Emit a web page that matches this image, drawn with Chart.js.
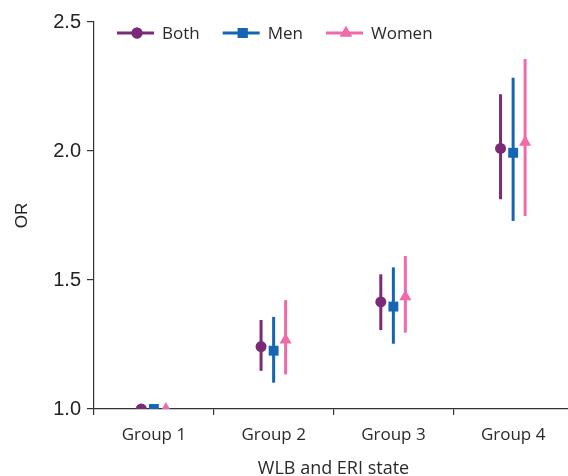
<!DOCTYPE html>
<html>
<head>
<meta charset="utf-8">
<script src="https://cdn.jsdelivr.net/npm/chart.js@4.4.1/dist/chart.umd.min.js"></script>
<style>
  html, body { margin: 0; padding: 0; background: #fff; overflow: hidden; }
  #wrap { position: relative; width: 580px; height: 476px; }
</style>
</head>
<body>
<div id="wrap"><canvas id="chart"></canvas></div>
<script>
// data
const groups = ['Group 1', 'Group 2', 'Group 3', 'Group 4'];
const yTicks = [1.0, 1.5, 2.0, 2.5];

const bothOR  = [1.00, 1.242, 1.415, 2.010];
const bothLo  = [null, 1.148, 1.306, 1.813];
const bothHi  = [null, 1.345, 1.522, 2.220];

const menOR   = [1.00, 1.226, 1.397, 1.993];
const menLo   = [null, 1.102, 1.253, 1.729];
const menHi   = [null, 1.357, 1.549, 2.284];

const womenOR = [1.00, 1.267, 1.435, 2.034];
const womenLo = [null, 1.134, 1.296, 1.748];
const womenHi = [null, 1.422, 1.593, 2.357];

const FONT = '"Open Sans", sans-serif';
const INK = '#333333';

// build scatter points: x = group index (1..4) + small dodge
function series(label, or, lo, hi, dodge, color, style, radius) {
  return {
    label,
    data: or.map((v, i) => ({ x: i + 1 + dodge, y: v, lo: lo[i], hi: hi[i] })),
    backgroundColor: color,
    borderColor: color,
    borderWidth: 0,
    pointStyle: style,
    pointRadius: radius,
    pointHoverRadius: radius,
    showLine: false
  };
}

const errorBars = {
  id: 'errorBars',
  beforeDatasetsDraw(chart) {
    const { ctx, scales: { x, y } } = chart;
    ctx.save();
    chart.data.datasets.forEach(ds => {
      ctx.strokeStyle = ds.borderColor;
      ctx.lineWidth = 3;
      ds.data.forEach(p => {
        if (p.lo == null) return;
        const px = x.getPixelForValue(p.x);
        ctx.beginPath();
        ctx.moveTo(px, y.getPixelForValue(p.lo));
        ctx.lineTo(px, y.getPixelForValue(p.hi));
        ctx.stroke();
      });
    });
    ctx.restore();
  }
};

// legend: short line with the marker in the middle, inside the plot
const lineLegend = {
  id: 'lineLegend',
  afterDraw(chart) {
    const ctx = chart.ctx;
    const cy = 33;
    let cx = 117;
    ctx.save();
    ctx.font = '17px ' + FONT;
    ctx.textBaseline = 'middle';
    chart.data.datasets.forEach(ds => {
      ctx.strokeStyle = ds.borderColor;
      ctx.lineWidth = 3;
      ctx.beginPath();
      ctx.moveTo(cx, cy);
      ctx.lineTo(cx + 37, cy);
      ctx.stroke();
      ctx.fillStyle = ds.backgroundColor;
      Chart.helpers.drawPoint(ctx, { pointStyle: ds.pointStyle, radius: ds.pointRadius, borderWidth: 0 }, cx + 20, cy);
      ctx.fill();
      ctx.fillStyle = '#2a2a2a';
      ctx.fillText(ds.label, cx + 45, cy + 1);
      cx += 45 + ctx.measureText(ds.label).width + 23;
    });
    ctx.restore();
  }
};

new Chart(document.getElementById('chart'), {
  type: 'scatter',
  data: {
    datasets: [
      series('Both',  bothOR,  bothLo,  bothHi,  -0.105, '#7b2a78', 'circle',   5.5),
      series('Men',   menOR,   menLo,   menHi,    0,     '#1565b4', 'rect',     7),
      series('Women', womenOR, womenLo, womenHi,  0.1,   '#f06aaa', 'triangle', 7)
    ]
  },
  options: {
    responsive: true,
    maintainAspectRatio: false,
    animation: false,
    layout: { padding: { top: 22, right: 5, left: 0, bottom: 0 } },
    plugins: { legend: { display: false }, tooltip: { enabled: false } },
    scales: {
      x: {
        type: 'linear',
        display: false,
        min: 0.5,
        max: 4.5
      },
      xCat: {
        type: 'category',
        position: 'bottom',
        labels: groups,
        offset: true,
        border: { color: INK, width: 1.2 },
        grid: { offset: true, drawOnChartArea: false, tickLength: 6, color: INK, lineWidth: 1.2 },
        ticks: { color: '#2a2a2a', font: { family: FONT, size: 17 }, padding: 10 },
        title: { display: true, text: 'WLB and ERI state', color: '#2a2a2a', font: { family: FONT, size: 18 }, padding: { top: 0, bottom: -4 } },
        afterFit: s => { s.height = 67; }
      },
      y: {
        min: 1.0,
        max: 2.5,
        afterBuildTicks: s => { s.ticks = yTicks.map(v => ({ value: v })); },
        border: { color: INK, width: 1.2 },
        grid: { drawOnChartArea: false, tickLength: 7, color: INK, lineWidth: 1.2 },
        ticks: {
          color: '#222',
          font: { family: '"Liberation Sans", Arial, sans-serif', size: 20 },
          padding: 6,
          callback: v => v.toFixed(1)
        },
        title: { display: true, text: 'OR', color: '#222', font: { family: '"Liberation Sans", Arial, sans-serif', size: 17 }, padding: { top: 12, bottom: 0 } },
        afterFit: s => { s.width = 94; }
      }
    }
  },
  plugins: [errorBars, lineLegend]
});
</script>
</body>
</html>
